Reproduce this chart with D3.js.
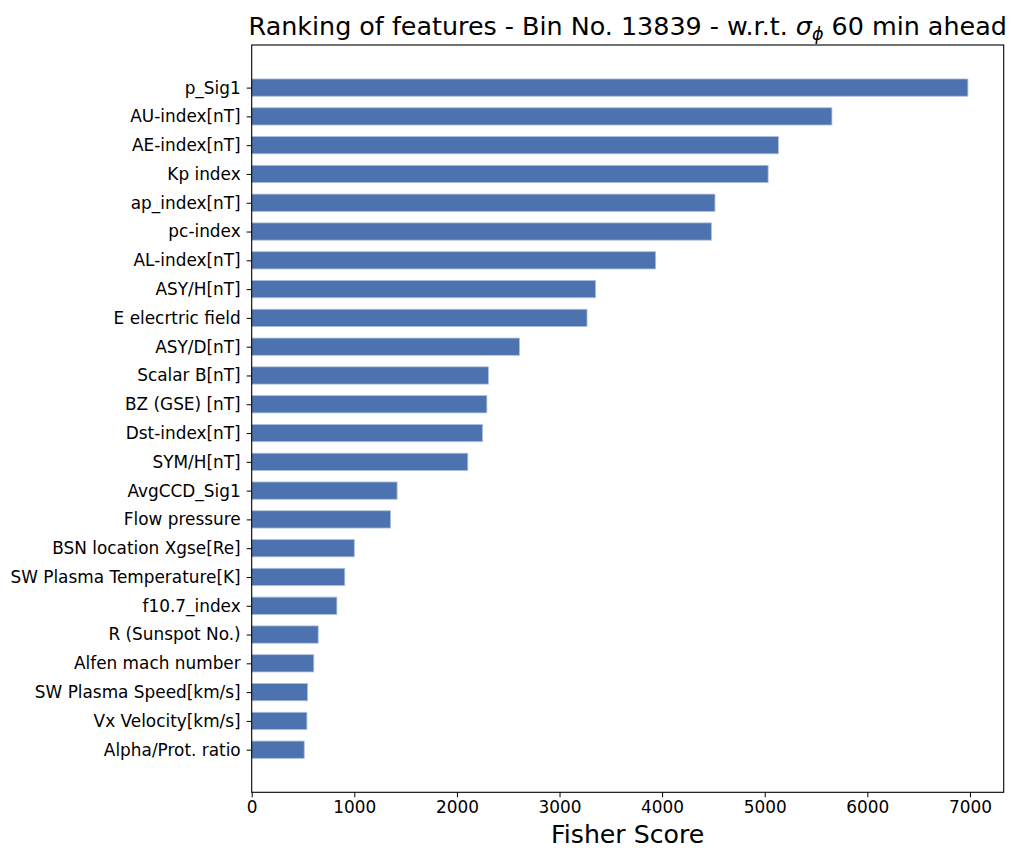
<!DOCTYPE html>
<html>
<head>
<meta charset="utf-8">
<script src="https://cdn.jsdelivr.net/npm/d3@7"></script>
<style>
  html, body { margin: 0; padding: 0; background: #fff; }
  svg { display: block; font-family: "DejaVu Sans", sans-serif; }
</style>
</head>
<body>
<svg id="chart" width="1011" height="850"></svg>
<script>
// Feature names, top to bottom
const features = [
  "p_Sig1", "AU-index[nT]", "AE-index[nT]", "Kp index", "ap_index[nT]",
  "pc-index", "AL-index[nT]", "ASY/H[nT]", "E elecrtric field", "ASY/D[nT]",
  "Scalar B[nT]", "BZ (GSE) [nT]", "Dst-index[nT]", "SYM/H[nT]", "AvgCCD_Sig1",
  "Flow pressure", "BSN location Xgse[Re]", "SW Plasma Temperature[K]", "f10.7_index",
  "R (Sunspot No.)", "Alfen mach number", "SW Plasma Speed[km/s]", "Vx Velocity[km/s]",
  "Alpha/Prot. ratio"
];

// Fisher score of each feature
const scores = [
  6980, 5655, 5133, 5033, 4515,
  4480, 3937, 3352, 3268, 2610,
  2307, 2292, 2250, 2106, 1417,
  1354, 1000, 907, 830, 648,
  605, 544, 538, 512
];

const xTicks = [0, 1000, 2000, 3000, 4000, 5000, 6000, 7000];

const svg = d3.select("#chart");
const plot = { left: 251.7, right: 1003.7, top: 45, bottom: 792.3 };
const barHeight = 0.6;
const n = features.length;
const tickFont = 16.9;

const x = d3.scaleLinear()
  .domain([0, d3.max(scores) * 1.05])
  .range([plot.left, plot.right]);

// index scale with 5% margins around the bar extent
const pad = (n - 1 + barHeight) * 0.05 + barHeight / 2;
const y = d3.scaleLinear()
  .domain([-pad, n - 1 + pad])
  .range([plot.top, plot.bottom]);

// bars
svg.append("g")
  .selectAll("rect")
  .data(scores)
  .join("rect")
  .attr("x", x(0))
  .attr("y", (d, i) => y(i - barHeight / 2))
  .attr("width", d => x(d) - x(0))
  .attr("height", y(barHeight) - y(0))
  .attr("fill", "#4c72b0")
  .attr("stroke", "#adc0df")
  .attr("stroke-width", 0.8);

// x axis
const xAxis = d3.axisBottom(x)
  .tickValues(xTicks)
  .tickFormat(d3.format("d"))
  .tickSize(5)
  .tickPadding(4);
const gx = svg.append("g")
  .attr("transform", `translate(0,${plot.bottom})`)
  .call(xAxis);
gx.select(".domain").remove();
gx.selectAll("line").attr("stroke", "#000").attr("stroke-width", 1);
gx.selectAll("text").attr("font-size", tickFont).attr("fill", "#000")
  .attr("font-family", "DejaVu Sans");

// y axis
const yAxis = d3.axisLeft(y)
  .tickValues(d3.range(n))
  .tickFormat(i => features[i])
  .tickSize(5)
  .tickPadding(6);
const gy = svg.append("g")
  .attr("transform", `translate(${plot.left},0)`)
  .call(yAxis);
gy.select(".domain").remove();
gy.selectAll("line").attr("stroke", "#000").attr("stroke-width", 1);
gy.selectAll("text").attr("font-size", tickFont).attr("fill", "#000")
  .attr("font-family", "DejaVu Sans");

// frame
svg.append("rect")
  .attr("x", plot.left)
  .attr("y", plot.top)
  .attr("width", plot.right - plot.left)
  .attr("height", plot.bottom - plot.top)
  .attr("fill", "none")
  .attr("stroke", "#000")
  .attr("stroke-width", 1.1);

// title
const title = svg.append("text")
  .attr("x", (plot.left + plot.right) / 2)
  .attr("y", 35)
  .attr("text-anchor", "middle")
  .attr("font-size", 25.4)
  .attr("fill", "#000");
title.append("tspan").text("Ranking of features - Bin No. 13839 - w.r.t. ");
title.append("tspan").attr("font-style", "italic").text("σ");
title.append("tspan").attr("font-style", "italic").attr("font-size", 17.5)
  .attr("dy", 5).text("ϕ");
title.append("tspan").attr("dy", -5).text(" 60 min ahead");

// x label
svg.append("text")
  .attr("x", (plot.left + plot.right) / 2)
  .attr("y", 843)
  .attr("text-anchor", "middle")
  .attr("font-size", 25.2)
  .attr("fill", "#000")
  .text("Fisher Score");
</script>
</body>
</html>
